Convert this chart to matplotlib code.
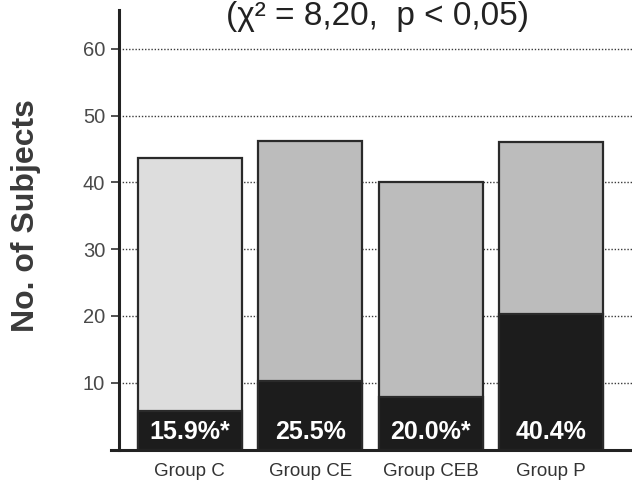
import numpy as np
import matplotlib
matplotlib.use('Agg')
import matplotlib.pyplot as plt

# data
groups = ['Group C', 'Group CE', 'Group CEB', 'Group P']
totals = [43.7, 46.2, 40.1, 46.1]
dark = [5.8, 10.3, 7.8, 20.3]
pct_labels = ['15.9%*', '25.5%', '20.0%*', '40.4%']
yticks = [10, 20, 30, 40, 50, 60]

upper_colors = ['#dddddd', '#bcbcbc', '#bcbcbc', '#bcbcbc']
dark_color = '#1c1c1c'
edge = '#2a2a2a'

fig = plt.figure(figsize=(6.32, 4.90), dpi=100)
ax = fig.add_axes([119 / 632, 40.5 / 490, 1 - 119 / 632, 439.5 / 490])

x = np.arange(len(groups))
width = 0.863

# dotted grid behind the bars
for t in yticks:
    ax.axhline(t, color='#3a3a3a', lw=1.0, ls=(0, (1, 1.3)), zorder=0)

ax.bar(x, totals, width=width, color=upper_colors, edgecolor=edge, linewidth=1.6, zorder=2)
ax.bar(x, dark, width=width, color=dark_color, edgecolor=edge, linewidth=1.6, zorder=3)

for xi, lab in zip(x, pct_labels):
    ax.text(xi, 2.55, lab, ha='center', va='center', color='white', fontsize=18,
            fontweight='bold', family=['Liberation Sans', 'DejaVu Sans'], zorder=4)

ax.set_xlim(-0.587, 3.67)
ax.set_ylim(0, 65.8)

ax.set_yticks(yticks)
ax.set_yticklabels([str(t) for t in yticks], fontsize=14.5, color='#4a4a4a',
                   family=['Liberation Sans', 'DejaVu Sans'])
ax.tick_params(axis='y', length=6, width=1.2, color='#333333', pad=4)

ax.set_xticks(x)
ax.set_xticklabels(groups, fontsize=13.5, color='#333333',
                   family=['Liberation Sans', 'DejaVu Sans'])
ax.tick_params(axis='x', length=0, pad=10)

for s in ['top', 'right', 'bottom']:
    ax.spines[s].set_visible(False)
ax.spines['left'].set_linewidth(2.2)
ax.spines['left'].set_color('#222222')

# baseline runs a little past the y axis on the left
ax.plot([-0.016, 1], [0, 0], transform=ax.get_yaxis_transform(), clip_on=False,
        color='#222222', lw=2.2, zorder=5)

ax.set_ylabel('No. of Subjects', fontsize=23, fontweight='bold', color='#3a3a3a',
              family=['Liberation Sans', 'DejaVu Sans'])
ax.yaxis.set_label_coords(-0.152, 0.532)

fig.text(377.5 / 632, 1 - 1 / 490, '(\u03c7\u00b2 = 8,20,  p < 0,05)',
         ha='center', va='top', fontsize=24, color='#222222',
         family=['Liberation Sans', 'DejaVu Sans'])

fig.savefig('out.png', dpi=100)
